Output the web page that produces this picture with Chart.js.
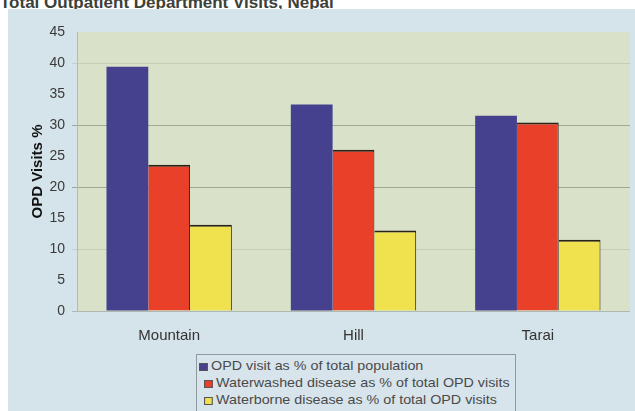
<!DOCTYPE html>
<html>
<head>
<meta charset="utf-8">
<script src="https://cdn.jsdelivr.net/npm/chart.js@4.4.1/dist/chart.umd.min.js"></script>
<style>
  html, body { margin: 0; padding: 0; background: #ffffff; width: 635px; height: 411px; overflow: hidden; position: relative; }
  #title { position: absolute; left: 0px; top: -6px; font-family: "Liberation Sans", Arial, sans-serif; font-weight: bold; font-size: 17px; line-height: 17px; color: #3b4139; white-space: nowrap; }
  #panel { position: absolute; left: 8px; top: 9px; width: 627px; height: 402px; background: #d5e3ea; }
  #wrap { position: absolute; left: 0; top: 0; width: 635px; height: 350px; }
  #legend { position: absolute; left: 196px; top: 354px; width: 318px; height: 60px; border: 1px solid #8d9ba1; background: #d7e4eb; font-family: "Liberation Sans", Arial, sans-serif; font-size: 13px; color: #4a4a4a; }
  .item { position: absolute; height: 14px; line-height: 14px; white-space: nowrap; transform: scaleX(1.1); transform-origin: left center; }
  .sw { display: inline-block; width: 8px; height: 8px; margin-right: 3px; vertical-align: -1px; border: 1px solid #555; box-sizing: border-box; }
</style>
</head>
<body>
<div id="title">Total Outpatient Department Visits, Nepal</div>
<div id="panel"></div>
<div id="wrap"><canvas id="c"></canvas></div>
<div id="legend"></div>
<script>
const categories = ["Mountain", "Hill", "Tarai"];
const seriesNames = [
  "OPD visit as % of total population",
  "Waterwashed disease as % of total OPD visits",
  "Waterborne disease as % of total OPD visits"
];
const opdVisits = [39.4, 33.3, 31.5];
const waterwashed = [23.6, 26.0, 30.4];
const waterborne = [13.9, 13.0, 11.5];
const seriesColors = ["#46418f", "#e9402a", "#efe24e"];
const yTicks = [0, 5, 10, 15, 20, 25, 30, 35, 40, 45];

const plotBg = {
  id: 'plotBg',
  beforeDraw(chart) {
    const {ctx, chartArea: a} = chart;
    ctx.save();
    ctx.fillStyle = '#d9e1c9';
    ctx.fillRect(a.left, a.top, a.right - a.left, a.bottom - a.top);
    ctx.restore();
  }
};

function gridColor(ctx) {
  const v = ctx.tick ? ctx.tick.value : null;
  if (v === 20 || v === 30) return 'rgba(150,156,140,0.85)';
  if (v === 40 || v === 10) return 'rgba(160,168,150,0.35)';
  if (v === 0) return 'rgba(150,156,140,0.6)';
  return 'rgba(0,0,0,0)';
}

const series = [opdVisits, waterwashed, waterborne];
const datasets = series.map((d, i) => ({
  label: seriesNames[i],
  data: d,
  backgroundColor: seriesColors[i],
  borderColor: i === 0 ? '#3e3a80' : '#2a2418',
  borderWidth: i === 0 ? 0 : {top: 2, right: 1, left: 0, bottom: 0},
  borderSkipped: false
}));

new Chart(document.getElementById('c'), {
  type: 'bar',
  data: { labels: categories, datasets },
  plugins: [plotBg],
  options: {
    responsive: true,
    maintainAspectRatio: false,
    animation: false,
    layout: { padding: { top: 32, right: 5, left: 0, bottom: 0 } },
    plugins: { legend: { display: false }, tooltip: { enabled: false } },
    datasets: { bar: { categoryPercentage: 0.68, barPercentage: 1.0 } },
    scales: {
      x: {
        grid: { display: false, drawTicks: false },
        border: { display: false },
        ticks: { color: '#333', padding: 16, font: { family: 'Liberation Sans', size: 15 } },
        afterFit(s) { s.height = 39; }
      },
      y: {
        min: 0, max: 45,
        afterBuildTicks(s) { s.ticks = yTicks.map(v => ({ value: v })); },
        grid: { color: gridColor, tickLength: 5, lineWidth: 1 },
        border: { display: true, color: '#b3bcb0', width: 1 },
        ticks: { color: '#3a3a3a', padding: 7, font: { family: 'Liberation Sans', size: 14 } },
        title: { display: true, text: 'OPD Visits %', color: '#111', font: { family: 'Liberation Sans', size: 15, weight: 'bold' }, padding: { top: 29, bottom: 0 } },
        afterFit(s) { s.width = 77; }
      }
    }
  }
});

const legend = document.getElementById('legend');
const offsets = [{x: 2, y: 4}, {x: 7, y: 21}, {x: 7, y: 38}];
seriesNames.forEach((n, i) => {
  const it = document.createElement('div');
  it.className = 'item';
  it.style.left = offsets[i].x + 'px';
  it.style.top = offsets[i].y + 'px';
  const sw = document.createElement('span');
  sw.className = 'sw';
  sw.style.background = seriesColors[i];
  it.appendChild(sw);
  it.appendChild(document.createTextNode(n));
  legend.appendChild(it);
});
</script>
</body>
</html>
